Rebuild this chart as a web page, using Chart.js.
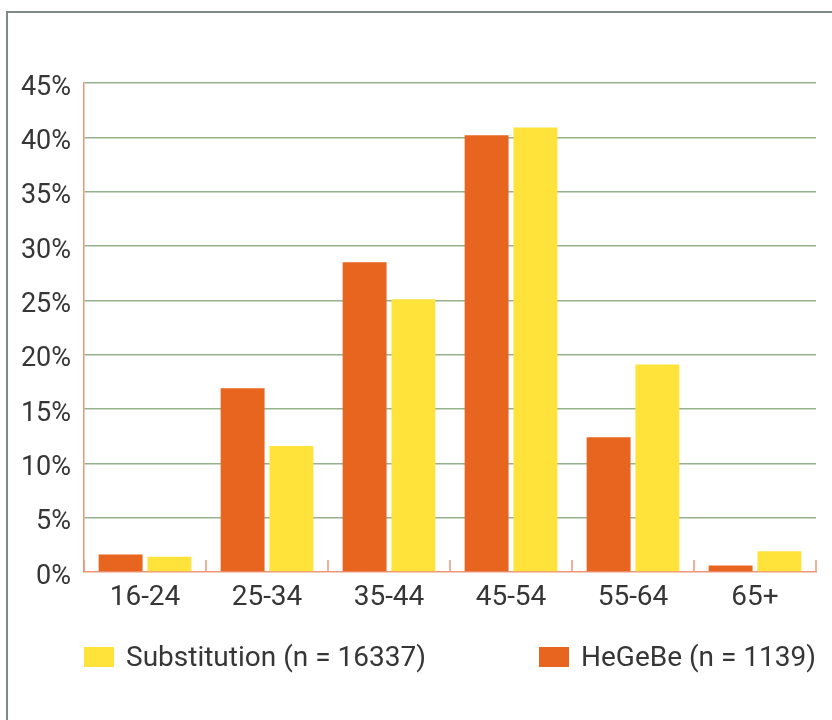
<!DOCTYPE html>
<html>
<head>
<meta charset="utf-8">
<style>
	html, body { margin: 0; padding: 0; background: #fff; overflow: hidden; }
	#frame { position: absolute; left: 6px; top: 11px; width: 900px; height: 800px;
		border-left: 2px solid #7f8a87; border-top: 2px solid #7f8a87; }
	#wrap { position: absolute; left: 0; top: 0; width: 832px; height: 720px; }
	#legend { position: absolute; left: 84px; top: 640px; width: 732px;
		display: flex; justify-content: space-between; font-family: Roboto, sans-serif;
		font-size: 28px; color: #363636; }
	#legend .item { display: flex; align-items: center; }
	#legend .box { width: 30px; height: 20px; margin-right: 12px; }
</style>
</head>
<body>
	<div id="frame"></div>
	<div id="wrap">
		<canvas id="myChart" width="832" height="720"></canvas>
	</div>
	<div id="legend"></div>

	<script src="https://cdn.jsdelivr.net/npm/chart.js"></script>

	<script>
		const ageGroups = ['16-24', '25-34', '35-44', '45-54', '55-64', '65+'];
		const hegebe = [1.6, 16.9, 28.5, 40.2, 12.4, 0.6];
		const substitution = [1.4, 11.6, 25.1, 40.9, 19.1, 1.9];
		const labelHegebe = 'HeGeBe (n = 1139)';
		const labelSubstitution = 'Substitution (n = 16337)';

		const orange = 'rgb(232, 101, 32)';
		const yellow = 'rgb(255, 226, 58)';
		const gridGreen = 'rgb(150, 178, 140)';
		const salmon = 'rgb(238, 150, 120)';

		// little upward ticks at category boundaries
		const boundaryTicks = {
			id: 'boundaryTicks',
			afterDatasetsDraw(chart) {
				const x = chart.scales.x;
				const bottom = chart.chartArea.bottom;
				const c = chart.ctx;
				c.save();
				c.strokeStyle = salmon;
				c.lineWidth = 1.5;
				for (let i = 0; i <= ageGroups.length; i++) {
					const px = x.getPixelForValue(i - 0.5);
					c.beginPath();
					c.moveTo(px, bottom);
					c.lineTo(px, bottom - 12);
					c.stroke();
				}
				c.restore();
			}
		};

		const htmlLegend = {
			id: 'htmlLegend',
			afterUpdate(chart) {
				const el = document.getElementById('legend');
				el.innerHTML = '';
				chart.data.datasets.slice().reverse().forEach((ds) => {
					const item = document.createElement('div');
					item.className = 'item';
					const box = document.createElement('span');
					box.className = 'box';
					box.style.background = ds.backgroundColor;
					const txt = document.createElement('span');
					txt.textContent = ds.label;
					item.appendChild(box);
					item.appendChild(txt);
					el.appendChild(item);
				});
			}
		};

		const ctx = document.getElementById('myChart');

		const chart = new Chart(ctx, {
			type: 'bar',
			data: {
				labels: ageGroups,
				datasets: [
					{ label: labelHegebe, data: hegebe, backgroundColor: orange },
					{ label: labelSubstitution, data: substitution, backgroundColor: yellow },
				]
			},
			options: {
				responsive: false,
				animation: false,
				layout: { padding: { top: 83, right: 16, bottom: 0, left: 0 } },
				categoryPercentage: 0.8,
				barPercentage: 0.9,
				plugins: {
					legend: { display: false },
					tooltip: { enabled: false }
				},
				scales: {
					x: {
						grid: { display: false, drawTicks: false },
						border: { color: salmon, width: 1.5 },
						ticks: {
							padding: 9,
							color: '#363636',
							font: { family: 'Roboto', size: 28 }
						},
						afterFit(scale) { scale.height = 148; }
					},
					y: {
						min: 0,
						max: 45,
						grid: {
							drawTicks: false,
							lineWidth: 1.5,
							color: (c) => c.tick && c.tick.value === 0 ? 'rgba(0,0,0,0)' : gridGreen
						},
						border: { color: salmon, width: 1.5 },
						ticks: {
							stepSize: 5,
							padding: 13,
							labelOffset: 5,
							color: '#363636',
							font: { family: 'Roboto', size: 27 },
							callback: (v) => v + '%'
						},
						afterFit(scale) { scale.width = 84; }
					}
				}
			},
			plugins: [boundaryTicks, htmlLegend]
		});
	</script>
</body>
</html>
